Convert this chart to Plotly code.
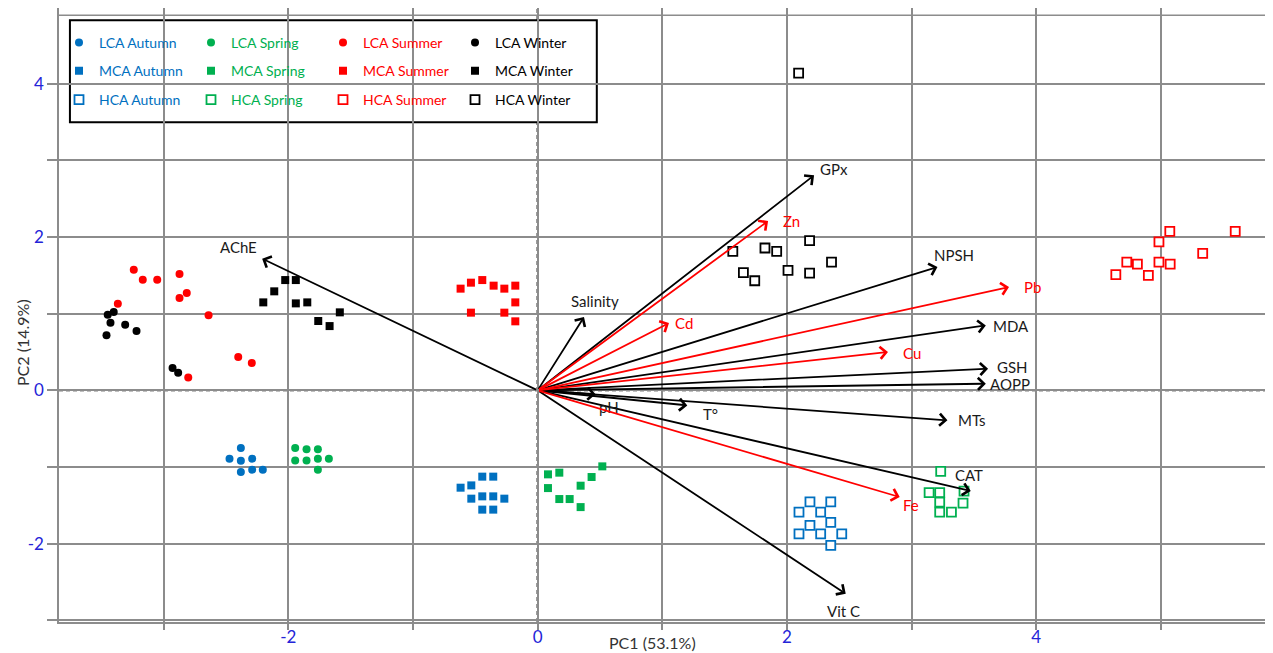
import plotly.graph_objects as go

# ---------------- data ----------------
groups = ["LCA", "MCA", "HCA"]
seasons = ["Autumn", "Spring", "Summer", "Winter"]

lca_autumn_x = [-2.381, -2.472, -2.381, -2.290, -2.381, -2.290, -2.205]
lca_autumn_y = [-0.752, -0.891, -0.917, -0.891, -1.065, -1.034, -1.034]
lca_spring_x = [-1.945, -1.854, -1.763, -1.945, -1.854, -1.763, -1.675, -1.763]
lca_spring_y = [-0.752, -0.769, -0.769, -0.913, -0.913, -0.891, -0.891, -1.034]
lca_summer_x = [-3.240, -3.168, -3.052, -2.873, -2.873, -2.815, -3.368, -2.640, -2.402, -2.293, -2.803]
lca_summer_y = [1.574, 1.443, 1.443, 1.516, 1.203, 1.269, 1.130, 0.978, 0.434, 0.356, 0.169]
lca_winter_x = [-3.449, -3.401, -3.427, -3.309, -3.459, -3.218, -2.929, -2.884]
lca_winter_y = [0.987, 1.021, 0.883, 0.857, 0.717, 0.773, 0.291, 0.231]

mca_autumn_x = [-0.444, -0.356, -0.618, -0.532, -0.532, -0.444, -0.356, -0.267, -0.444, -0.356]
mca_autumn_y = [-1.125, -1.125, -1.269, -1.239, -1.412, -1.382, -1.382, -1.412, -1.555, -1.555]
mca_spring_x = [0.083, 0.174, 0.083, 0.174, 0.257, 0.345, 0.345, 0.433, 0.519]
mca_spring_y = [-1.095, -1.073, -1.274, -1.417, -1.417, -1.243, -1.522, -1.130, -0.991]
mca_summer_x = [-0.618, -0.535, -0.444, -0.353, -0.267, -0.179, -0.179, -0.535, -0.267, -0.179]
mca_summer_y = [1.326, 1.404, 1.438, 1.365, 1.326, 1.365, 1.147, 1.013, 1.013, 0.900]
mca_winter_x = [-2.201, -2.113, -2.025, -1.940, -1.940, -1.848, -1.587, -1.760, -1.669]
mca_winter_y = [1.147, 1.291, 1.438, 1.438, 1.134, 1.147, 1.017, 0.904, 0.838]

hca_autumn_x = [2.185, 2.352, 2.097, 2.271, 2.185, 2.352, 2.097, 2.271, 2.440, 2.352]
hca_autumn_y = [-1.454, -1.454, -1.587, -1.587, -1.760, -1.721, -1.871, -1.871, -1.871, -2.021]
hca_spring_x = [3.234, 3.141, 3.226, 3.226, 3.226, 3.320, 3.413, 3.421]
hca_spring_y = [-1.056, -1.334, -1.334, -1.456, -1.587, -1.587, -1.469, -1.313]
hca_summer_x = [5.072, 5.597, 4.985, 5.336, 4.727, 4.812, 4.985, 5.075, 4.639, 4.900]
hca_summer_y = [2.074, 2.074, 1.935, 1.786, 1.673, 1.647, 1.673, 1.647, 1.508, 1.499]
hca_winter_x = [2.094, 1.566, 1.824, 1.918, 2.182, 2.358, 1.651, 1.742, 2.009, 2.182]
hca_winter_y = [4.135, 1.813, 1.856, 1.813, 1.952, 1.673, 1.534, 1.429, 1.564, 1.529]

# loading vectors (PC1, PC2)
black_vars = ["AChE", "Salinity", "GPx", "NPSH", "MDA", "GSH", "AOPP", "MTs", "CAT", "Vit C", "pH", "T°"]
black_pc1 = [-2.210, 0.372, 2.218, 3.208, 3.596, 3.614, 3.596, 3.288, 3.475, 2.472, 0.465, 1.201]
black_pc2 = [1.717, 0.956, 2.803, 1.608, 0.847, 0.283, 0.087, -0.391, -1.313, -2.651, -0.050, -0.196]
red_vars = ["Zn", "Cd", "Cu", "Pb", "Fe"]
red_pc1 = [1.849, 1.054, 2.811, 3.782, 2.905]
red_pc2 = [2.208, 0.878, 0.500, 1.347, -1.391]

x_tick_vals = [-2, 0, 2, 4]
x_tick_text = ["-2", "0", "2", "4"]
y_tick_vals = [-2, 0, 2, 4]
y_tick_text = ["-2", "0", "2", "4"]
x_title = "PC1 (53.1%)"
y_title = "PC2 (14.9%)"

# ---------------- styles ----------------
FONT = "Lato, 'Open Sans', sans-serif"
season_color = {"Autumn": "#0070C0", "Spring": "#00B050", "Summer": "#FF0000", "Winter": "#000000"}
GRID = "#8c8c8c"
TICKBLUE = "#2424d8"

# label offsets in px (xshift, yshift) relative to arrow tip
label_shift = {
    "AChE": (-24, 12), "Salinity": (11, 16), "GPx": (20, 6), "NPSH": (17, 12),
    "MDA": (25, -1), "GSH": (24, 2), "AOPP": (24, 0), "MTs": (25, 0),
    "CAT": (-2, 16), "Vit C": (-2, -17), "pH": (13, -13), "T°": (23, -9),
    "Zn": (23, 0), "Cd": (15, 0), "Cu": (24, -1), "Pb": (23, 0), "Fe": (11, -8),
}

data = {
    ("LCA", "Autumn"): (lca_autumn_x, lca_autumn_y),
    ("LCA", "Spring"): (lca_spring_x, lca_spring_y),
    ("LCA", "Summer"): (lca_summer_x, lca_summer_y),
    ("LCA", "Winter"): (lca_winter_x, lca_winter_y),
    ("MCA", "Autumn"): (mca_autumn_x, mca_autumn_y),
    ("MCA", "Spring"): (mca_spring_x, mca_spring_y),
    ("MCA", "Summer"): (mca_summer_x, mca_summer_y),
    ("MCA", "Winter"): (mca_winter_x, mca_winter_y),
    ("HCA", "Autumn"): (hca_autumn_x, hca_autumn_y),
    ("HCA", "Spring"): (hca_spring_x, hca_spring_y),
    ("HCA", "Summer"): (hca_summer_x, hca_summer_y),
    ("HCA", "Winter"): (hca_winter_x, hca_winter_y),
}

legend_for = {"LCA": "legend", "MCA": "legend2", "HCA": "legend3"}

fig = go.Figure()
for g in groups:
    for s in seasons:
        xs, ys = data[(g, s)]
        c = season_color[s]
        if g == "LCA":
            marker = dict(symbol="circle", size=8, color=c, line=dict(width=0))
        elif g == "MCA":
            marker = dict(symbol="square", size=8, color=c, line=dict(width=0))
        else:
            marker = dict(symbol="square", size=9, color="white", line=dict(width=1.8, color=c))
        fig.add_trace(go.Scatter(
            x=xs, y=ys, mode="markers", marker=marker,
            name=f'<span style="color:{c}">{g} {s}</span>',
            legend=legend_for[g], hoverinfo="x+y+name",
        ))

annotations = []
def add_vector(name, vx, vy, color):
    annotations.append(dict(
        x=vx, y=vy, xref="x", yref="y", ax=0, ay=0, axref="x", ayref="y",
        text="", showarrow=True, arrowhead=4, arrowsize=1.3, arrowwidth=1.8,
        arrowcolor=color,
    ))
    dx, dy = label_shift[name]
    annotations.append(dict(
        x=vx, y=vy, xref="x", yref="y", text=name, showarrow=False,
        xshift=dx, yshift=dy, xanchor="center", yanchor="middle",
        font=dict(family=FONT, size=15, color="#1a1a1a" if color == "#000000" else color),
    ))

for n, vx, vy in zip(black_vars, black_pc1, black_pc2):
    add_vector(n, vx, vy, "#000000")
for n, vx, vy in zip(red_vars, red_pc1, red_pc2):
    add_vector(n, vx, vy, "#FF0000")

annotations.append(dict(x=0.489, y=-0.034, xref="paper", yref="paper", text=x_title,
                        showarrow=False, xanchor="center", yanchor="middle",
                        font=dict(family=FONT, size=16, color="#333333")))
annotations.append(dict(x=-0.0305, y=0.456, xref="paper", yref="paper", text=y_title,
                        showarrow=False, xanchor="center", yanchor="middle", textangle=-90,
                        font=dict(family=FONT, size=16, color="#333333")))

shapes = [
    dict(type="line", xref="x", yref="paper", x0=0, x1=0, y0=0, y1=1,
         line=dict(color="black", width=2, dash="4px,3px"), layer="between"),
    dict(type="line", xref="paper", yref="y", x0=0, x1=1, y0=0, y1=0,
         line=dict(color="black", width=2, dash="4px,3px"), layer="between"),
    dict(type="line", xref="paper", yref="y", x0=0, x1=1, y0=4.89, y1=4.89,
         line=dict(color=GRID, width=1.5), layer="between"),
    dict(type="rect", xref="paper", yref="paper", x0=0.009, x1=0.443, y0=0.814, y1=0.980,
         line=dict(color="black", width=2), fillcolor="white", layer="between"),
]

axis_common = dict(
    showgrid=True, gridcolor=GRID, gridwidth=1.5, zeroline=False,
    showline=True, linecolor=GRID, linewidth=1.5,
    ticks="outside", tickcolor=GRID, tickwidth=1.5,
    tickfont=dict(family=FONT, size=17, color=TICKBLUE),
)

# page has an 8px body margin: the figure is sized/margined to compensate
fig.update_layout(
    width=1265, height=645,
    margin=dict(l=51, r=0, t=0, b=31),
    paper_bgcolor="white", plot_bgcolor="white",
    font=dict(family=FONT, size=14, color="black"),
    xaxis=dict(range=[-3.84, 5.90], tickvals=x_tick_vals, ticktext=x_tick_text, ticklen=6,
               ticklabelstandoff=-7, **axis_common),
    yaxis=dict(range=[-3.02, 4.985], tickvals=y_tick_vals, ticktext=y_tick_text, ticklen=10,
               **axis_common),
    annotations=annotations,
    shapes=shapes,
    showlegend=True,
)
fig.update_xaxes(minor=dict(dtick=1, tick0=0, showgrid=True, gridcolor=GRID, gridwidth=1.5,
                            ticks="outside", ticklen=6, tickcolor=GRID, tickwidth=1.5))
fig.update_yaxes(minor=dict(dtick=1, tick0=0, showgrid=True, gridcolor=GRID, gridwidth=1.5,
                            ticks="outside", ticklen=10, tickcolor=GRID, tickwidth=1.5))

legend_style = dict(orientation="h", xanchor="left", yanchor="middle",
                    bgcolor="rgba(0,0,0,0)", borderwidth=0, entrywidth=87,
                    font=dict(family=FONT, size=14), itemclick=False, itemdoubleclick=False)
fig.update_layout(
    legend=dict(x=0.0, y=0.943, **legend_style),
    legend2=dict(x=0.0, y=0.897, **legend_style),
    legend3=dict(x=0.0, y=0.850, **legend_style),
)

fig.write_html("out.html")
